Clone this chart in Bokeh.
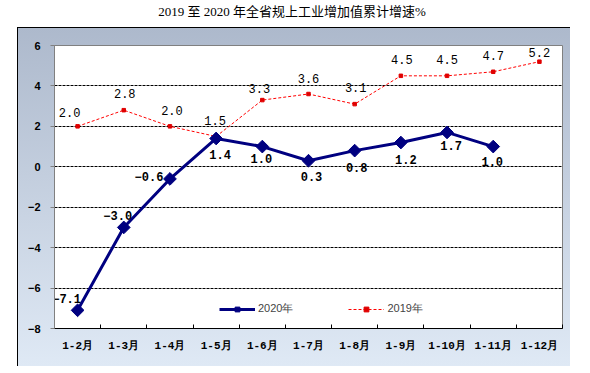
from bokeh.plotting import figure
from bokeh.models import (ColumnDataSource, FixedTicker, Legend, LegendItem, Div, Spacer)
from bokeh.layouts import column, row
from bokeh.core.properties import value
from bokeh.embed import file_html
from bokeh.resources import INLINE

# ---- data ----
categories = ["1-2月", "1-3月", "1-4月", "1-5月", "1-6月", "1-7月", "1-8月",
              "1-9月", "1-10月", "1-11月", "1-12月"]
growth_2020 = [-7.1, -3.0, -0.6, 1.4, 1.0, 0.3, 0.8, 1.2, 1.7, 1.0]
growth_2019 = [2.0, 2.8, 2.0, 1.5, 3.3, 3.6, 3.1, 4.5, 4.5, 4.7, 5.2]
y_ticks = [-8, -6, -4, -2, 0, 2, 4, 6]
title_text = "2019 至 2020 年全省规上工业增加值累计增速%"

# label placement (pixels)
dx20 = [-11, -6, -21, 4, -1, 3, 2, 5, 4, -1]
dy20 = [-12, -12, -2, 16, 12, 16, 17, 17, 13, 15]
dx19 = [-8, 1, 2, -1, -3, 0, 1, 1, 0, 0, 0]
dy19 = [-14, -17, -16, -16, -12, -16, -17, -16, -16, -16, -9]


def fmt(v):
    return f"{v:.1f}".replace("-", "\u2212")


xpos = list(range(1, len(categories) + 1))
src20 = ColumnDataSource(dict(x=xpos[:len(growth_2020)], y=growth_2020,
                              lab=[fmt(v) for v in growth_2020], dx=dx20, dy=dy20))
src19 = ColumnDataSource(dict(x=xpos[:len(growth_2019)], y=growth_2019,
                              lab=[fmt(v) for v in growth_2019], dx=dx19, dy=dy19))

p = figure(width=553, height=339, output_backend="svg", toolbar_location=None,
           x_range=(0.5, len(categories) + 0.5), y_range=(-8, 6),
           min_border_left=36, min_border_right=9, min_border_top=17, min_border_bottom=39)
p.border_fill_alpha = 0
p.background_fill_color = "white"
p.outline_line_color = "#808080"
p.styles = {"background": "linear-gradient(to bottom, #adb9cc, #dfe9f5)",
            "border-left": "1px solid black", "border-top": "1px solid black"}

# axes
p.xgrid.visible = False
p.xaxis.ticker = FixedTicker(ticks=xpos, minor_ticks=[x + 0.5 for x in range(0, len(categories) + 1)])
p.xaxis.major_label_overrides = {x: c for x, c in zip(xpos, categories)}
p.xaxis.major_tick_in = 0
p.xaxis.major_tick_out = 0
p.xaxis.minor_tick_in = 4
p.xaxis.minor_tick_out = 0
p.xaxis.minor_tick_line_color = "black"
p.xaxis.axis_line_color = "black"
p.xaxis.major_label_standoff = 11
p.xaxis.major_label_text_font = "Liberation Mono"
p.xaxis.major_label_text_font_style = "bold"
p.xaxis.major_label_text_font_size = "11px"
p.xaxis.major_label_text_color = "black"

p.yaxis.ticker = FixedTicker(ticks=y_ticks)
p.yaxis.major_label_overrides = {t: str(t).replace("-", "\u2212") for t in y_ticks}
p.yaxis.minor_tick_line_color = None
p.yaxis.axis_line_color = "#808080"
p.yaxis.major_tick_line_color = "#808080"
p.yaxis.major_tick_out = 4
p.yaxis.major_tick_in = 0
p.yaxis.major_label_standoff = 10
p.yaxis.major_label_text_font = "Liberation Sans"
p.yaxis.major_label_text_font_style = "bold"
p.yaxis.major_label_text_font_size = "11px"
p.yaxis.major_label_text_color = "black"

p.ygrid.ticker = FixedTicker(ticks=y_ticks[1:-1])
p.ygrid.grid_line_color = "black"
p.ygrid.grid_line_dash = "3 1"
p.ygrid.grid_line_width = 1

# 2019 series
l19 = p.line("x", "y", source=src19, line_color="#ff0000", line_width=1, line_dash="3 2")
m19 = p.scatter("x", "y", source=src19, marker="square", size=3.5,
                fill_color="#e00000", line_color="#e00000")
p.text("x", "y", text="lab", source=src19, x_offset="dx", y_offset="dy",
       text_align="center", text_baseline="middle", text_font=value("Liberation Mono"),
       text_font_size="12px", text_color="black")

# 2020 series
l20 = p.line("x", "y", source=src20, line_color="#000080", line_width=3)
m20 = p.scatter("x", "y", source=src20, marker="square", angle=0.785398, size=9,
                fill_color="#000080", line_color="#000080")
p.text("x", "y", text="lab", source=src20, x_offset="dx", y_offset="dy",
       text_align="center", text_baseline="middle", text_font=value("Liberation Mono"),
       text_font_style="bold", text_font_size="12px", text_color="black")

legend = Legend(items=[LegendItem(label="2020年", renderers=[l20, m20]),
                       LegendItem(label="2019年", renderers=[l19, m19])],
                orientation="horizontal", location=(165, 12), padding=0, margin=0,
                spacing=55, glyph_width=36, glyph_height=12, label_height=12,
                label_standoff=3, border_line_color=None, background_fill_alpha=0,
                label_text_font="Liberation Sans", label_text_font_size="11px")
p.add_layout(legend, "center")

title = Div(text=title_text, width=574, height=17,
            styles={"font-family": "'Liberation Serif', 'Noto Sans CJK SC'", "font-size": "13px",
                    "text-align": "center", "width": "574px", "line-height": "13px",
                    "padding-top": "0px", "color": "black"})

layout = column(title, row(Spacer(width=17, height=339), p, spacing=0), spacing=0)
open("out.html", "w").write(file_html(layout, INLINE))
